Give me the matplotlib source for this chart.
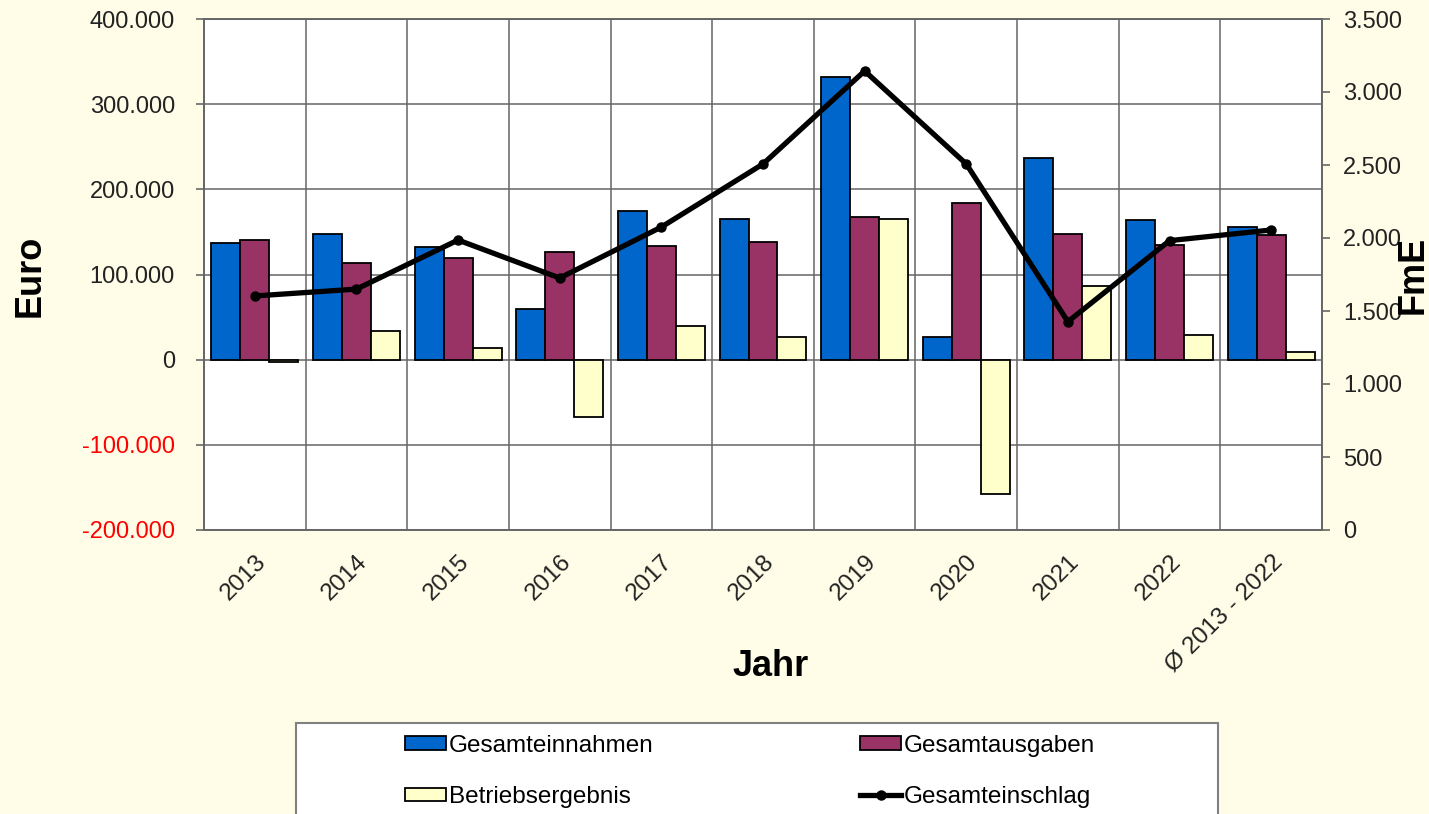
import numpy as np
import matplotlib
matplotlib.use("Agg")
import matplotlib.pyplot as plt
from matplotlib.patches import Rectangle

plt.rcParams['font.family'] = ['Liberation Sans', 'DejaVu Sans']

# data
jahre = ["2013", "2014", "2015", "2016", "2017", "2018", "2019", "2020",
         "2021", "2022", "Ø 2013 - 2022"]
einnahmen = [136500, 147000, 132000, 60000, 174000, 165000, 332000, 27000,
             237000, 163500, 155600]
ausgaben = [140000, 113000, 119000, 127000, 134000, 138000, 167000, 184000,
            148000, 135000, 146000]
ergebnis = [-3000, 34000, 14000, -67000, 40000, 27000, 165000, -158000,
            86000, 29000, 9000]
einschlag = [1603, 1650, 1986, 1726, 2075, 2507, 3144, 2507, 1427, 1982, 2055]

links_ticks = [-200000, -100000, 0, 100000, 200000, 300000, 400000]
rechts_ticks = [0, 500, 1000, 1500, 2000, 2500, 3000, 3500]

bg = '#FFFDE7'
W, H = 1429, 814
fig = plt.figure(figsize=(W / 100, H / 100), dpi=100, facecolor=bg)
ax = fig.add_axes([204 / W, 1 - 530 / H, (1322 - 204) / W, (530 - 19) / H])
ax.set_facecolor('white')
ax2 = ax.twinx()

x = np.arange(len(jahre))
bw = 0.285
b1 = ax.bar(x - bw, einnahmen, bw, color='#0066CC', edgecolor='black', lw=1.3, zorder=3)
b2 = ax.bar(x, ausgaben, bw, color='#993366', edgecolor='black', lw=1.3, zorder=3)
b3 = ax.bar(x + bw, ergebnis, bw, color='#FFFFCC', edgecolor='black', lw=1.3, zorder=3)
l1, = ax2.plot(x, einschlag, color='black', lw=3.8, marker='o', ms=6.5, zorder=4)

ax.set_xlim(-0.5, len(jahre) - 0.5)
ax.set_ylim(-200000, 400000)
ax2.set_ylim(0, 3500)

fmt = lambda v: f"{int(v):,}".replace(",", ".")
ax.set_yticks(links_ticks, labels=[fmt(v) for v in links_ticks])
for t, v in zip(ax.get_yticklabels(), links_ticks):
    t.set_color('#FF0000' if v < 0 else '#222222')
ax2.set_yticks(rechts_ticks, labels=[fmt(v) for v in rechts_ticks])

ax.set_xticks(x, labels=jahre)
ax.set_xticks(np.arange(-0.5, len(jahre)), minor=True)
for t in ax.get_xticklabels():
    t.set_rotation(45)
    t.set_ha('right')
    t.set_va('top')
    t.set_rotation_mode('anchor')

ax.tick_params(axis='x', which='both', length=0, labelsize=17.5, pad=15, labelcolor='#222222')
ax.tick_params(axis='y', direction='out', length=6, width=1.2, color='#666666',
               labelsize=17, pad=15)
ax2.tick_params(axis='y', direction='out', length=6, width=1.2, color='#666666',
                labelsize=17, pad=9, labelcolor='#222222')

ax.grid(axis='y', which='major', color='#666666', lw=1.1, zorder=0)
ax.grid(axis='x', which='minor', color='#666666', lw=1.1, zorder=0)
ax.set_axisbelow(True)
for a in (ax, ax2):
    for s in a.spines.values():
        s.set_color('#666666')
        s.set_linewidth(1.2)

fig.text(30 / W, 1 - 276 / H, "Euro", rotation=90, ha='center', va='center',
         fontsize=26, fontweight='bold')
fig.text(1413 / W, 1 - 275 / H, "FmE", rotation=90, ha='center', va='center',
         fontsize=26, fontweight='bold')
fig.text(771 / W, 1 - 667 / H, "Jahr", ha='center', va='center',
         fontsize=26, fontweight='bold')

# legend box
fig.add_artist(Rectangle((296 / W, -0.1), (1218 - 296) / W, 1 - 723 / H + 0.1,
                         transform=fig.transFigure, facecolor='white',
                         edgecolor='#808080', lw=1.5, zorder=1))
opts = dict(loc='upper left', bbox_transform=fig.transFigure, frameon=False,
            borderpad=0, borderaxespad=0, fontsize=17.5, handlelength=1.7,
            handleheight=0.5, handletextpad=0.12, labelspacing=1.2)
leg1 = fig.legend([b1, b3], ["Gesamteinnahmen", "Betriebsergebnis"],
                  bbox_to_anchor=(405 / W, 1 - 735 / H), **opts)
leg2 = fig.legend([b2, l1], ["Gesamtausgaben", "Gesamteinschlag"],
                  bbox_to_anchor=(860 / W, 1 - 735 / H), **opts)
for lg in (leg1, leg2):
    lg.set_zorder(2)

fig.savefig("out.png", dpi=100, facecolor=bg)
